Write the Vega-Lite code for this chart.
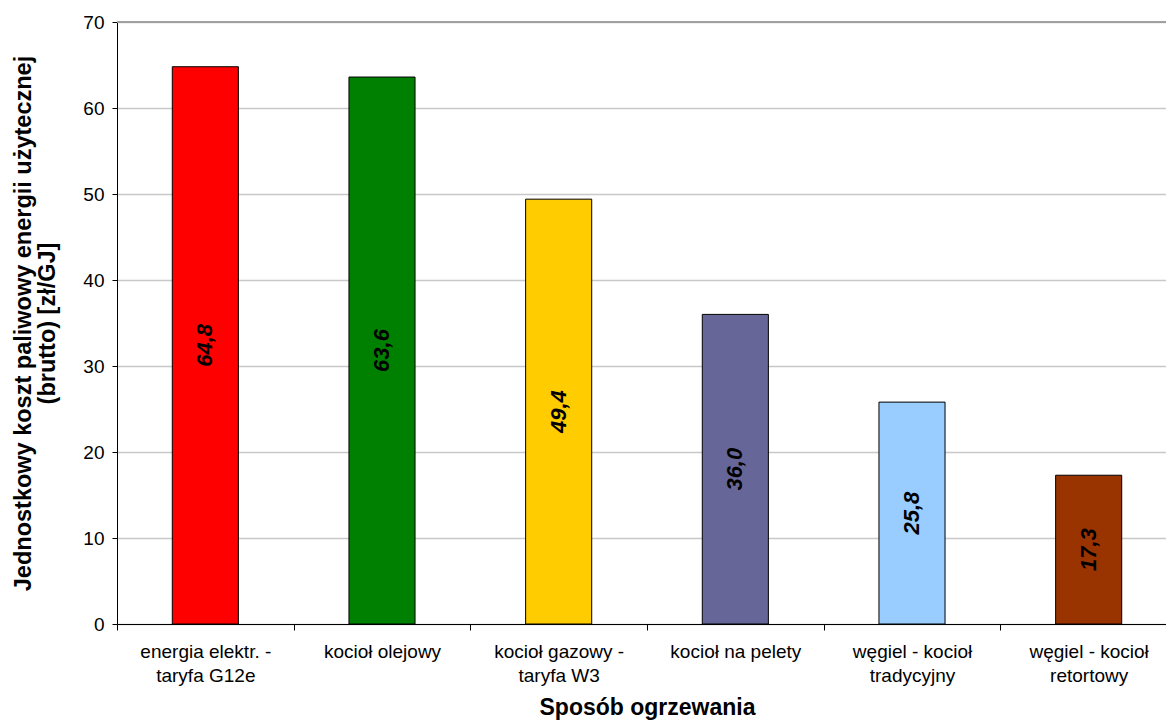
{
  "$schema": "https://vega.github.io/schema/vega-lite/v6.json",
  "autosize": "none",
  "width": 1060,
  "height": 602,
  "padding": {"left": 117, "top": 22, "right": 0, "bottom": 96},
  "background": "white",
  "config": {
    "font": "Liberation Sans",
    "view": {"stroke": null},
    "locale": {"number": {"decimal": ",", "thousands": " ", "grouping": [3], "currency": ["", " zł"]}}
  },
  "data": {
    "values": [
      {"kategoria": "energia elektr. -\ntaryfa G12e", "koszt": 64.8, "kolor": "a"},
      {"kategoria": "kocioł olejowy", "koszt": 63.6, "kolor": "b"},
      {"kategoria": "kocioł gazowy -\ntaryfa W3", "koszt": 49.4, "kolor": "c"},
      {"kategoria": "kocioł na pelety", "koszt": 36.0, "kolor": "d"},
      {"kategoria": "węgiel - kocioł\ntradycyjny", "koszt": 25.8, "kolor": "e"},
      {"kategoria": "węgiel - kocioł\nretortowy", "koszt": 17.3, "kolor": "f"}
    ]
  },
  "layer": [
    {
      "mark": {"type": "bar", "width": {"band": 0.374}, "stroke": "black", "strokeWidth": 1},
      "encoding": {
        "x": {
          "field": "kategoria", "type": "nominal", "sort": null,
          "scale": {"paddingInner": 0, "paddingOuter": 0},
          "axis": {
            "title": "Sposób ogrzewania",
            "titleFont": "Liberation Sans", "titleFontSize": 23, "titleFontWeight": "bold", "titleColor": "black",
            "titlePadding": 11,
            "labelExpr": "split(datum.label, '\\n')",
            "labelAngle": 0, "labelFontSize": 19, "labelColor": "black", "labelLineHeight": 24,
            "labelPadding": 12, "labelBaseline": "top",
            "tickBand": "extent", "tickSize": 6, "tickColor": "black", "tickWidth": 1,
            "domainColor": "black", "domainWidth": 1, "grid": false
          }
        },
        "y": {
          "field": "koszt", "type": "quantitative",
          "scale": {"domain": [0, 70], "nice": false},
          "axis": {
            "title": ["Jednostkowy koszt paliwowy energii użytecznej", "(brutto) [zł/GJ]"],
            "titleFont": "Liberation Sans", "titleFontSize": 23.5, "titleFontWeight": "bold", "titleColor": "black",
            "titleLineHeight": 24, "titlePadding": 23,
            "values": [0, 10, 20, 30, 40, 50, 60, 70],
            "format": "d",
            "labelFontSize": 19, "labelColor": "black", "labelPadding": 8,
            "tickSize": 5, "tickColor": "black", "domainColor": "black",
            "grid": true, "gridColor": "#c8c8c8", "gridWidth": 1.5
          }
        },
        "fill": {
          "field": "kolor", "type": "nominal",
          "scale": {"domain": ["a", "b", "c", "d", "e", "f"], "range": ["#ff0000", "#008000", "#ffcc00", "#666699", "#99ccff", "#993300"]},
          "legend": null
        }
      }
    },
    {
      "mark": {"type": "rule", "color": "#a0a0a0", "strokeWidth": 1.5},
      "encoding": {"y": {"datum": 70}}
    },
    {
      "mark": {"type": "text", "angle": 270, "font": "Liberation Sans", "fontSize": 22, "fontWeight": "bold", "fontStyle": "italic", "color": "black", "align": "center", "baseline": "middle"},
      "encoding": {
        "x": {"field": "kategoria", "type": "nominal", "sort": null},
        "y": {"field": "koszt", "type": "quantitative", "scale": {"domain": [0, 140], "nice": false}, "axis": null},
        "text": {"field": "koszt", "type": "quantitative", "format": ".1f"}
      }
    }
  ],
  "resolve": {"scale": {"y": "independent"}}
}
